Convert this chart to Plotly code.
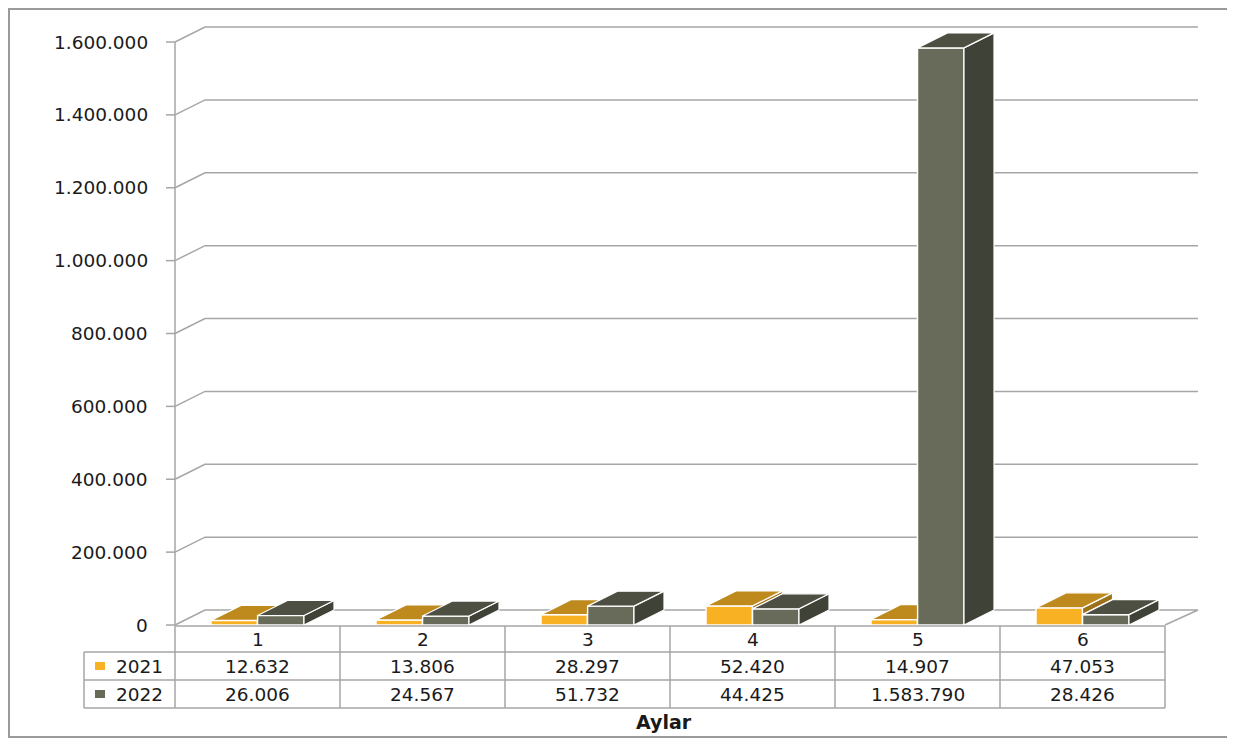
import plotly.graph_objects as go

# ---------------- data ----------------
months = ["1", "2", "3", "4", "5", "6"]
series_names = ["2021", "2022"]
v2021 = [12632, 13806, 28297, 52420, 14907, 47053]
v2022 = [26006, 24567, 51732, 44425, 1583790, 28426]
y_ticks = [0, 200000, 400000, 600000, 800000, 1000000, 1200000, 1400000, 1600000]
x_title = "Aylar"

# ---------------- styling / geometry (page pixel coordinates) ----------------
PAGE_W, PAGE_H = 1235, 742
OFF = 8                      # browser default body margin
W, H = PAGE_W - OFF, PAGE_H - OFF
X0 = 175                     # front-left corner of the plot (x units = page pixels)
COLW = 165                   # category width
XR_BACK = 1198               # right end of back-wall gridlines
Y0PX, TOPPX = 625, 42
YMAX = 1600000
K = YMAX / (Y0PX - TOPPX)    # value units per pixel
DX = 30                      # depth offset (pixels)
DY = 15 * K                  # depth offset (value units)
BARW = 46.5

COL = {
    "2021": {"front": "#F9B124", "top": "#BE8A1E", "side": "#9C7118"},
    "2022": {"front": "#686B5A", "top": "#4D4F43", "side": "#3F4237"},
}
GRID = "#A6A6A6"
FONT = "DejaVu Sans"
FS = 18.5
TXT = "#1a1a1a"

ymin = -(PAGE_H - Y0PX) * K
ymax = (Y0PX - OFF) * K


def py(p):
    """paper y from page pixel row"""
    return 1 - (p - OFF) / H


def fmt(v):
    return f"{v:,}".replace(",", ".")


fig = go.Figure()
shapes = []
annotations = []

# ---- back wall gridlines with slanted returns, floor ----
for t in y_ticks:
    shapes.append(dict(type="line", xref="x", yref="y", x0=166, x1=X0, y0=t, y1=t,
                       line=dict(color=GRID, width=1.5), layer="below"))
    if t > 0:
        shapes.append(dict(type="path", xref="x", yref="y",
                           path=f"M {X0},{t} L {X0+DX},{t+DY} L {XR_BACK},{t+DY}",
                           line=dict(color=GRID, width=1.5), layer="below"))
    annotations.append(dict(xref="x", yref="y", x=150, y=t, text=fmt(t), showarrow=False,
                            xanchor="right", yanchor="middle",
                            font=dict(family=FONT, size=FS, color=TXT)))
TX_R = X0 + COLW * len(months)
# floor
shapes.append(dict(type="path", xref="x", yref="y",
                   path=f"M {X0},0 L {X0+DX},{DY} L {XR_BACK},{DY} L {TX_R},0",
                   line=dict(color=GRID, width=1.5), layer="below"))
# y axis line
shapes.append(dict(type="line", xref="x", yref="y", x0=X0, x1=X0, y0=0, y1=YMAX,
                   line=dict(color=GRID, width=1.5), layer="below"))

# ---- bars: fronts via go.Bar, tops/sides via filled polygons ----
off = {"2021": -BARW / 2, "2022": BARW / 2}
vals = {"2021": v2021, "2022": v2022}


def poly(xs, ys, color):
    fig.add_trace(go.Scatter(x=xs + [xs[0]], y=ys + [ys[0]], mode="lines", fill="toself",
                             fillcolor=color, line=dict(color="white", width=1.2),
                             hoverinfo="skip", showlegend=False))


centers = [X0 + COLW * (i + 0.5) for i in range(len(months))]
for s in series_names:
    xs = [c + off[s] for c in centers]
    fig.add_trace(go.Bar(x=xs, y=vals[s], width=BARW, name=s,
                         marker=dict(color=COL[s]["front"], line=dict(color="white", width=1.5)),
                         showlegend=False))

for i, c in enumerate(centers):
    h1, h2 = v2021[i], v2022[i]
    # 2021 box (left)
    xl, xr = c - BARW, c
    if h1 > h2:
        poly([xr, xr, xr + DX, xr + DX], [h2, h1, h1 + DY, h2 + DY], COL["2021"]["side"])
        poly([xl, xr, xr + DX, xl + DX], [h1, h1, h1 + DY, h1 + DY], COL["2021"]["top"])
    else:
        if h2 >= h1 + DY:
            poly([xl, xr, xr, xl + DX], [h1, h1, h1 + DY, h1 + DY], COL["2021"]["top"])
        else:
            xc = xr + (h2 - h1) * DX / DY
            poly([xl, xr, xr, xc, xr + DX, xl + DX],
                 [h1, h1, h2, h2, h1 + DY, h1 + DY], COL["2021"]["top"])
    # 2022 box (right)
    xl, xr = c, c + BARW
    poly([xr, xr, xr + DX, xr + DX], [0, h2, h2 + DY, DY], COL["2022"]["side"])
    poly([xl, xr, xr + DX, xl + DX], [h2, h2, h2 + DY, h2 + DY], COL["2022"]["top"])

# ---- data table ----
TX_L = 84
rows_px = [626, 652, 680, 708]
for k, p in enumerate(rows_px):
    shapes.append(dict(type="line", xref="x", yref="paper",
                       x0=X0 if k == 0 else TX_L, x1=TX_R, y0=py(p), y1=py(p),
                       line=dict(color=GRID, width=1.5)))
shapes.append(dict(type="line", xref="x", yref="paper", x0=TX_L, x1=TX_L,
                   y0=py(652), y1=py(708), line=dict(color=GRID, width=1.5)))
shapes.append(dict(type="line", xref="x", yref="paper", x0=X0, x1=X0,
                   y0=py(626), y1=py(708), line=dict(color=GRID, width=1.5)))
for i in range(len(months)):
    xb = X0 + COLW * (i + 1)
    shapes.append(dict(type="line", xref="x", yref="paper", x0=xb, x1=xb,
                       y0=py(626), y1=py(708), line=dict(color=GRID, width=1.5)))

row_mid = [639, 666, 694]
for i, m in enumerate(months):
    for txt, p in zip([m, fmt(v2021[i]), fmt(v2022[i])], row_mid):
        annotations.append(dict(xref="x", yref="paper", x=centers[i], y=py(p), text=txt,
                                showarrow=False, xanchor="center", yanchor="middle",
                                font=dict(family=FONT, size=FS, color=TXT)))

for s, p in zip(series_names, row_mid[1:]):
    shapes.append(dict(type="rect", xref="x", yref="paper", x0=95, x1=105,
                       y0=py(p + 4), y1=py(p - 4), fillcolor=COL[s]["front"], line=dict(width=0)))
    annotations.append(dict(xref="x", yref="paper", x=114, y=py(p), text=s, showarrow=False,
                            xanchor="left", yanchor="middle",
                            font=dict(family=FONT, size=FS, color=TXT)))

annotations.append(dict(xref="x", yref="paper", x=664, y=py(722), text=f"<b>{x_title}</b>",
                        showarrow=False, xanchor="center", yanchor="middle",
                        font=dict(family=FONT, size=19, color=TXT)))

# outer border
shapes.append(dict(type="rect", xref="x", yref="paper", x0=9, x1=1232,
                   y0=py(737), y1=py(9), line=dict(color="#9A9A9A", width=2)))

fig.update_layout(
    width=W, height=H, autosize=False,
    margin=dict(l=0, r=0, t=0, b=0),
    paper_bgcolor="white", plot_bgcolor="white",
    barmode="overlay",
    xaxis=dict(range=[OFF, PAGE_W], visible=False, fixedrange=True),
    yaxis=dict(range=[ymin, ymax], visible=False, fixedrange=True),
    shapes=shapes, annotations=annotations, showlegend=False,
)

fig.write_html("out.html")
